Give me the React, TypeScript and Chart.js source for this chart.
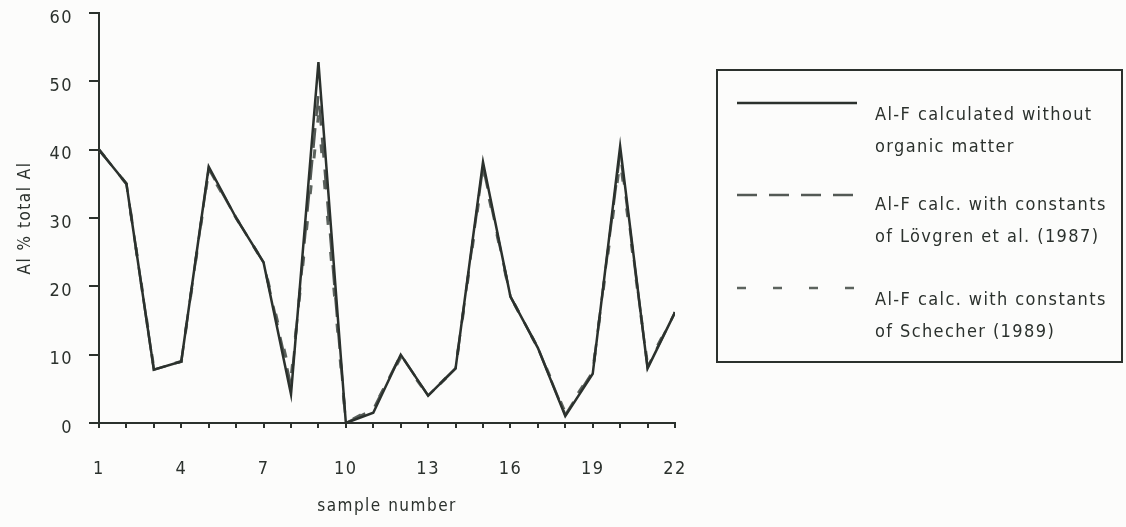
import React, { useEffect, useRef } from "react";
import { Chart, registerables } from "chart.js";

Chart.register(...registerables);

// ---- data ----
const samples = [1, 2, 3, 4, 5, 6, 7, 8, 9, 10, 11, 12, 13, 14, 15, 16, 17, 18, 19, 20, 21, 22];
const withoutOrganic = [40, 35, 7.8, 9, 37.5, 30, 23.5, 4.2, 52.8, 0, 1.5, 10, 4, 8, 38.2, 18.5, 11, 1, 7.2, 40.5, 8, 16.2];
const lovgren = [40, 35, 7.8, 9, 37.2, 30, 23.5, 5.5, 48, 0, 2, 10, 4, 8, 37.5, 18.5, 11, 1.2, 7.5, 39.5, 8.2, 16.2];
const schecher = [40, 35, 8, 9, 37, 30, 23.5, 6.5, 45, 0, 2.2, 9.6, 4, 8, 37, 18.5, 11, 1.5, 7.6, 38.5, 8.5, 16.2];
const xLabeled = [1, 4, 7, 10, 13, 16, 19, 22];
const yTicks = [0, 10, 20, 30, 40, 50, 60];
const seriesNames = [
  ["Al-F calculated without", "organic matter"],
  ["Al-F calc. with constants", "of Lövgren et al. (1987)"],
  ["Al-F calc. with constants", "of Schecher (1989)"],
];
const xTitle = "sample number";
const yTitle = "Al % total Al";

const INK = "#2b312d";
const FONT = "'Liberation Sans Narrow', 'DejaVu Sans Condensed', 'Liberation Sans', sans-serif";

const bgPlugin = {
  id: "bg",
  beforeDraw(chart: any) {
    const { ctx, width, height } = chart;
    ctx.fillStyle = "#fcfcfb";
    ctx.fillRect(0, 0, width, height);
    (ctx as any).letterSpacing = "1.5px";
  },
};

const legendPlugin = {
  id: "boxLegend",
  afterDraw(chart: any) {
    const ctx = chart.ctx as CanvasRenderingContext2D;
    ctx.save();
    ctx.strokeStyle = INK;
    ctx.lineWidth = 2;
    ctx.strokeRect(717, 70, 405, 292);
    const sampleY = [103, 195, 288];
    const textY = [[115, 147], [205, 237], [300, 332]];
    chart.data.datasets.forEach((ds: any, i: number) => {
      ctx.beginPath();
      ctx.setLineDash(ds.borderDash || []);
      ctx.strokeStyle = ds.borderColor;
      ctx.lineWidth = 2.5;
      ctx.moveTo(737, sampleY[i]);
      ctx.lineTo(857, sampleY[i]);
      ctx.stroke();
      ctx.setLineDash([]);
      ctx.fillStyle = INK;
      ctx.font = `18px ${FONT}`;
      (ctx as any).letterSpacing = "1.4px";
      ctx.textBaseline = "middle";
      ctx.textAlign = "left";
      seriesNames[i].forEach((t, j) => ctx.fillText(t, 875, textY[i][j]));
    });
    ctx.restore();
  },
};

export default function App() {
  const ref = useRef<HTMLCanvasElement>(null);
  useEffect(() => {
    if (!ref.current) return;
    const mk = (vals: number[]) => samples.map((s, i) => ({ x: s, y: vals[i] }));
    const chart = new Chart(ref.current, {
      type: "line",
      data: {
        datasets: [
          { label: seriesNames[0].join(" "), data: mk(withoutOrganic), borderColor: INK, borderWidth: 2.5, pointRadius: 0, tension: 0 },
          { label: seriesNames[1].join(" "), data: mk(lovgren), borderColor: "#535955", borderWidth: 2.5, borderDash: [20, 12], pointRadius: 0, tension: 0 },
          { label: seriesNames[2].join(" "), data: mk(schecher), borderColor: "#5c635e", borderWidth: 3, borderDash: [9, 27], pointRadius: 0, tension: 0 },
        ],
      },
      options: {
        animation: false,
        responsive: true,
        maintainAspectRatio: false,
        layout: { padding: { left: 0, top: 13, right: 451, bottom: 0 } },
        plugins: { legend: { display: false }, tooltip: { enabled: false } },
        scales: {
          x: {
            type: "linear",
            min: 1,
            max: 22,
            afterFit: (s: any) => { s.height = 104; },
            afterBuildTicks: (s: any) => { s.ticks = samples.map((v) => ({ value: v })); },
            ticks: {
              color: INK,
              font: { family: FONT, size: 18 },
              padding: 31,
              maxRotation: 0,
              autoSkip: false,
              callback: (v: any) => (xLabeled.includes(Number(v)) ? String(v) : ""),
            },
            grid: { display: true, drawOnChartArea: false, drawTicks: true, tickLength: 5, color: INK, lineWidth: 2 },
            border: { display: true, color: INK, width: 2 },
            title: { display: true, text: xTitle, color: INK, font: { family: FONT, size: 17 }, padding: { top: 0, bottom: 10 } },
          },
          y: {
            min: 0,
            max: 60,
            afterFit: (s: any) => { s.width = 99; s.paddingTop = 0; s.paddingBottom = 0; },
            afterBuildTicks: (s: any) => { s.ticks = yTicks.map((v) => ({ value: v })); },
            ticks: { color: INK, font: { family: FONT, size: 18 }, padding: 16, labelOffset: 5 },
            grid: { display: true, drawOnChartArea: false, drawTicks: true, tickLength: 10, color: INK, lineWidth: 2 },
            border: { display: true, color: INK, width: 2 },
            title: { display: true, text: yTitle, color: INK, font: { family: FONT, size: 17 }, padding: { top: 15, bottom: 0 } },
          },
        },
      },
      plugins: [bgPlugin, legendPlugin],
    });
    return () => chart.destroy();
  }, []);
  return (
    <div style={{ position: "fixed", left: 0, top: 0, width: 1126, height: 527 }}>
      <canvas ref={ref} />
    </div>
  );
}
